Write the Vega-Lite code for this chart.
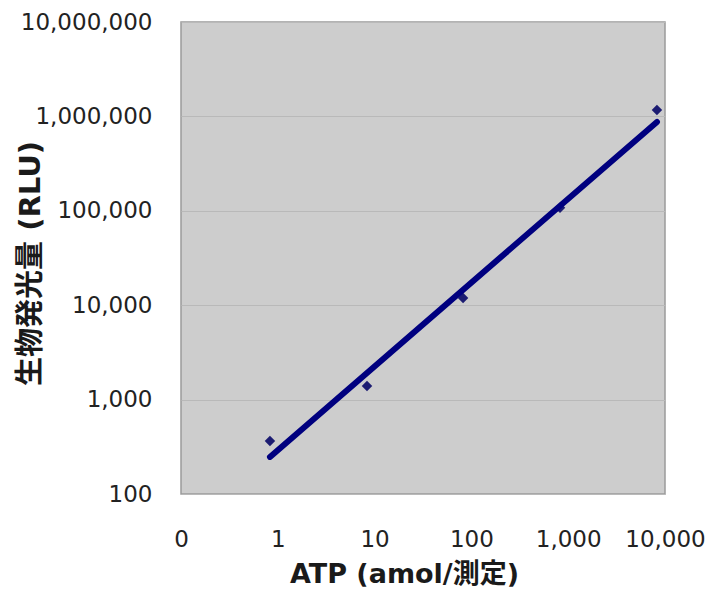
{
  "$schema": "https://vega.github.io/schema/vega-lite/v6.json",
  "width": 484,
  "height": 472,
  "autosize": {"type": "none"},
  "padding": {"left": 181, "top": 22, "right": 44, "bottom": 95},
  "background": "white",
  "config": {
    "view": {"fill": "#cdcdcd", "stroke": "#9b9b9b", "strokeWidth": 1.5},
    "axis": {"labelFont": "DejaVu Sans", "labelColor": "#222222", "titleColor": "#1a1a1a", "titleFont": "DejaVu Sans, Noto Sans CJK JP"}
  },
  "datasets": {
    "pts": [
      {"atp": 0.83, "rlu": 364},
      {"atp": 8.35, "rlu": 1390},
      {"atp": 82, "rlu": 11900},
      {"atp": 823, "rlu": 108000},
      {"atp": 8260, "rlu": 1170000}
    ],
    "fit": [
      {"atp": 0.83, "rlu": 247},
      {"atp": 8260, "rlu": 873000}
    ]
  },
  "layer": [
    {
      "data": {"name": "pts"},
      "mark": {"type": "point", "shape": "diamond", "filled": true, "size": 110, "color": "#1c1c72", "opacity": 1},
      "encoding": {
        "x": {
          "field": "atp", "type": "quantitative",
          "scale": {"type": "log", "domain": [0.1, 10000], "nice": false},
          "axis": {
            "title": "ATP (amol/測定)",
            "values": [0.1, 1, 10, 100, 1000, 10000],
            "labelExpr": "datum.value < 1 ? '0' : format(datum.value, ',')",
            "labelFontSize": 23,
            "labelFlush": false,
            "labelOverlap": false,
            "grid": false,
            "domain": false,
            "ticks": false,
            "labelPadding": 34,
            "titleFontSize": 27,
            "titleFontWeight": "bold",
            "titleX": 223,
            "titleY": 88,
            "titleBaseline": "alphabetic",
            "titleAnchor": "middle"
          }
        },
        "y": {
          "field": "rlu", "type": "quantitative",
          "scale": {"type": "log", "domain": [100, 10000000], "nice": false},
          "axis": {
            "title": "生物発光量 (RLU)",
            "values": [100, 1000, 10000, 100000, 1000000, 10000000],
            "format": ",",
            "labelFontSize": 23,
            "labelFlush": false,
            "labelOverlap": false,
            "grid": true,
            "gridColor": "#b9b9b9",
            "gridWidth": 1,
            "domain": false,
            "ticks": false,
            "labelPadding": 29,
            "titleFontSize": 29,
            "titleFontWeight": "bold",
            "titleAngle": -90,
            "titleX": -151,
            "titleY": 241,
            "titleBaseline": "middle",
            "titleAlign": "center"
          }
        }
      }
    },
    {
      "data": {"name": "fit"},
      "mark": {"type": "line", "color": "#00007f", "strokeWidth": 6, "strokeCap": "round"},
      "encoding": {
        "x": {"field": "atp", "type": "quantitative"},
        "y": {"field": "rlu", "type": "quantitative"}
      }
    }
  ]
}
